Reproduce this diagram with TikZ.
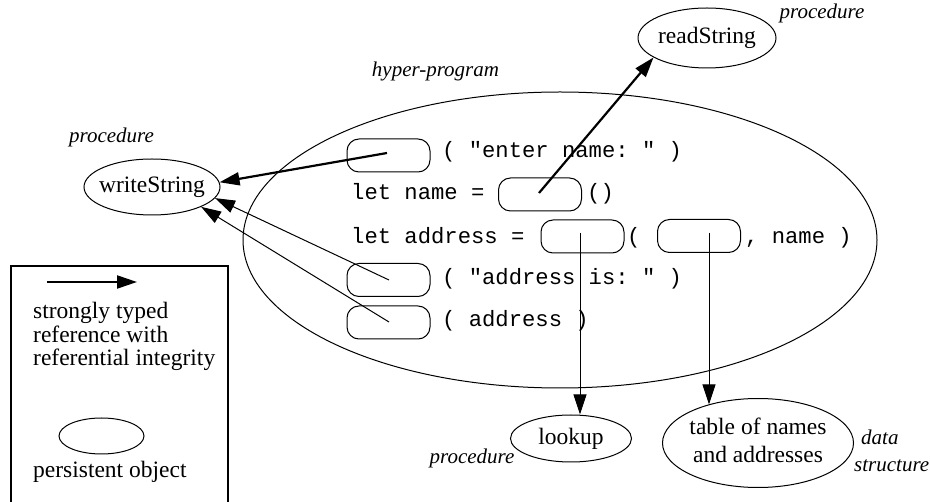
\documentclass[tikz,border=0pt]{standalone}
\usepackage{fontspec}
\setmainfont{Liberation Serif}
\setmonofont{Liberation Mono}
\usetikzlibrary{arrows.meta,shapes.geometric}
\begin{document}
\begin{tikzpicture}[x=1pt,y=-1pt,
  obj/.style={ellipse, draw, line width=1pt, inner sep=0pt},
  slot/.style={draw, rounded corners=12pt, minimum width=83pt, minimum height=33pt, inner sep=0pt, line width=1pt},
  code/.style={font=\fontsize{22.2}{26}\ttfamily, anchor=base west, inner sep=0pt},
  lbl/.style={font=\fontsize{21}{27}\selectfont\itshape, inner sep=0pt},
  txt/.style={font=\fontsize{23.5}{28}\selectfont},
  strongref/.style={line width=2.2pt, -{Triangle[length=20pt,width=13pt]}},
  thinref/.style={line width=1pt, -{Triangle[length=20pt,width=13pt]}},
]
\useasboundingbox (0,0) rectangle (930,502);

% hyper-program
\node[obj, minimum width=634pt, minimum height=296pt] (hp) at (560,240) {};
\node[lbl] (hplbl) at (435.5,71) {hyper-program};

% persistent objects
\node[obj, txt, minimum width=136pt, minimum height=56pt] (ws) at (152,187) {\makebox[0pt]{writeString}};
\node[lbl] (wslbl) at (111.5,137) {procedure};
\node[obj, txt, minimum width=138pt, minimum height=60pt] (rs) at (707,38) {\makebox[0pt]{readString}};
\node[lbl] (rslbl) at (822,13.5) {procedure};
\node[obj, txt, minimum width=121pt, minimum height=47pt] (lk) at (571,438.5) {\makebox[0pt]{lookup}};
\node[lbl] (lklbl) at (472,458) {procedure};
\node[obj, txt, minimum width=191pt, minimum height=89pt] (tb) at (758,443) {\makebox[0pt]{\begin{tabular}{@{}c@{}}table of names\\and addresses\end{tabular}}};
\node[lbl, anchor=base west] (tbl1) at (861,445) {data};
\node[lbl, anchor=base west] (tbl2) at (854,472) {structure};

% slots
\node[slot] (b1) at (388.5,155.5) {};
\node[slot] (b2) at (540,194.5) {};
\node[slot] (b3) at (582.5,236.5) {};
\node[slot] (b3b) at (699,236) {};
\node[slot] (b4) at (388.5,280) {};
\node[slot] (b5) at (388.5,322.5) {};

% code
\node[code] (t1) at (442,158) {( "enter name: " )};
\node[code] (t2) at (351,200) {let name =};
\node[code] (t2b) at (587,200) {()};
\node[code] (t3) at (351,244) {let address =};
\node[code] (t3b) at (627,244) {(};
\node[code] (t3c) at (745,244) {, name )};
\node[code] (t4) at (442,285) {( "address is: " )};
\node[code] (t5) at (442,327) {( address )};

% references
\coordinate (s1) at (387,153);
\coordinate (s2) at (539,193);
\coordinate (s3) at (389,280);
\coordinate (s4) at (389,322);
\coordinate (s5) at (580,233);
\coordinate (s6) at (709,233);
\draw[strongref] (s1) -- (ws.4);
\draw[strongref] (s2) -- (rs.200);
\draw[thinref] (s3) -- (ws.-10);
\draw[thinref] (s4) -- (ws.-22);
\draw[thinref] (s5) -- (s5 |- lk.north);
\draw[thinref] (s6) -- (s6 |- tb.142);

% legend
\node[draw, line width=1.6pt, anchor=north west, minimum width=217pt, minimum height=260pt, inner sep=0pt] (lg) at (10,265) {};
\coordinate (la) at (47,282);
\coordinate (lb) at (137,282);
\draw[strongref] (la) -- (lb);
\node[anchor=north west, align=left, inner sep=0pt, font=\fontsize{23.5}{23.5}\selectfont] (lgt) at (33,302) {strongly typed\\reference with\\referential integrity};
\node[obj, minimum width=85pt, minimum height=36pt] (lge) at (101.5,436) {};
\node[txt, anchor=base west, inner sep=0pt] (lgp) at (33,478) {persistent object};
\end{tikzpicture}
\end{document}
